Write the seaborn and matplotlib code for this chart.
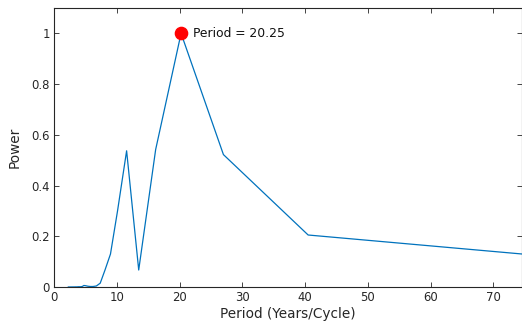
import numpy as np
import pandas as pd
import matplotlib
matplotlib.use("Agg")
import matplotlib.pyplot as plt
import seaborn as sns

# Data: periods N/k with N = 81 years
harmonic = list(range(1, 37))
period = [81 / k for k in harmonic]
power = [0.116, 0.205, 0.522, 1.0, 0.542, 0.067, 0.537, 0.30, 0.13, 0.065,
         0.015, 0.004, 0.002, 0.002, 0.003, 0.005, 0.006, 0.002, 0.001, 0.001,
         0.001, 0.0005, 0.0005, 0.0005, 0.0003, 0.0003, 0.0003, 0.0002, 0.0002, 0.0002,
         0.0001, 0.0001, 0.0001, 0.0001, 0.0001, 0.0001]
peak_period = 20.25
peak_power = 1.0
peak_label = "Period = 20.25"
x_ticks = [0, 10, 20, 30, 40, 50, 60, 70]
y_ticks = [0, 0.2, 0.4, 0.6, 0.8, 1.0]
y_tick_labels = ["0", "0.2", "0.4", "0.6", "0.8", "1"]

sns.set_style("white")
plt.rcParams["font.family"] = ["DejaVu Sans"]

df = pd.DataFrame({"Period": period, "Power": power})

fig = plt.figure(figsize=(5.22, 3.26), dpi=100)
ax = fig.add_axes([54 / 522, 1 - 287 / 326, 467.5 / 522, (287 - 8) / 326])

sns.lineplot(data=df, x="Period", y="Power", ax=ax, color="#0072BD",
             linewidth=0.9)
ax.plot([peak_period], [peak_power], "o", color="#FF0000", markersize=8.8,
        zorder=5)
ax.annotate(peak_label, xy=(peak_period, peak_power), xytext=(8.5, 0),
            textcoords="offset points", fontsize=8.9, va="center", ha="left",
            color="#111111")

ax.set_xlim(0, 74.5)
ax.set_ylim(0, 1.1)
ax.set_xticks(x_ticks)
ax.set_yticks(y_ticks)
ax.set_yticklabels(y_tick_labels)
ax.set_xlabel("Period (Years/Cycle)", fontsize=9.8, color="#262626", labelpad=2)
ax.set_ylabel("Power", fontsize=9.8, color="#262626", labelpad=7)

for s in ax.spines.values():
    s.set_color("#262626")
    s.set_linewidth(0.8)
ax.tick_params(axis="both", direction="in", length=3.5, width=0.6,
               colors="#262626", labelsize=8.4, top=True, right=True,
               bottom=True, left=True, pad=3)

fig.savefig("out.png", dpi=100)
